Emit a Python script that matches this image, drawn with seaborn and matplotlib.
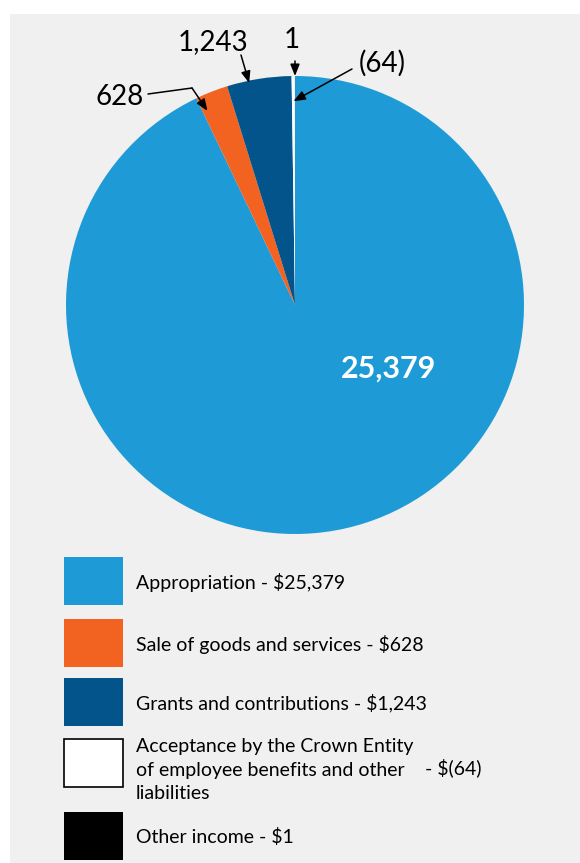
import numpy as np
import matplotlib
matplotlib.use("Agg")
import matplotlib.pyplot as plt
from matplotlib.patches import Rectangle
import seaborn as sns

# Income sources ($000)
categories = [
    "Appropriation",
    "Sale of goods and services",
    "Grants and contributions",
    "Acceptance by the Crown Entity\nof employee benefits and other\nliabilities",
    "Other income",
]
values = [25379, 628, 1243, 64, 1]
value_labels = ["25,379", "628", "1,243", "(64)", "1"]
legend_amounts = ["$25,379", "$628", "$1,243", "$(64)", "$1"]
colors = ["#1e9bd7", "#f26322", "#02548b", "#ffffff", "#000000"]

sns.set_theme(style="white")
plt.rcParams["font.family"] = ["Lato", "DejaVu Sans"]
plt.rcParams["text.color"] = "black"

W, H = 580, 863
fig = plt.figure(figsize=(W / 100, H / 100), dpi=100)
fig.patch.set_facecolor("white")

# grey panel behind the chart
fig.patches.append(Rectangle((10 / W, 0), (W - 10) / W, (H - 14) / H,
                             transform=fig.transFigure, facecolor="#f0f0f0",
                             edgecolor="none", zorder=-5))

# pie axes: centre (295, 305) px, radius 229 px
cx, cy, r = 295, 305, 229
ax = fig.add_axes([(cx - r) / W, (H - cy - r) / H, 2 * r / W, 2 * r / H])
ax.set_zorder(1)
wedges, _ = ax.pie(values, colors=colors, startangle=90, counterclock=False,
                   wedgeprops=dict(linewidth=0))
ax.set_xlim(-1, 1)
ax.set_ylim(-1, 1)
ax.set_aspect("equal")
ax.axis("off")


def px(x, y):
    """pixel position -> pie data coordinates"""
    return ((x - cx) / r, (cy - y) / r)


def wedge_point(w, rad, frac=0.5):
    a = np.deg2rad(w.theta1 + frac * (w.theta2 - w.theta1))
    return (rad * np.cos(a), rad * np.sin(a))


arrow = dict(arrowstyle="-|>,head_length=0.7,head_width=0.28", color="black",
             lw=1.1, mutation_scale=10, shrinkA=0, shrinkB=0)

# big value inside the main slice
ax.text(*px(389, 369), value_labels[0], color="white", fontsize=22,
        fontweight="bold", ha="center", va="center")

# 628 with an elbowed leader
ax.text(*px(120, 97), value_labels[1], fontsize=20, ha="center", va="center",
        color="black")
e = px(192, 88)
s = px(148, 94)
ax.plot([s[0], e[0]], [s[1], e[1]], color="black", lw=1.1, clip_on=False)
ax.annotate("", xy=wedge_point(wedges[1], 0.93, 0.85), xytext=e,
            arrowprops=arrow, annotation_clip=False)

# 1,243
ax.text(*px(213, 42), value_labels[2], fontsize=20, ha="center", va="center",
        color="black")
ax.annotate("", xy=wedge_point(wedges[2], 0.99, 0.66), xytext=px(241, 55),
            arrowprops=arrow, annotation_clip=False)

# (64)
ax.text(*px(382, 63), value_labels[3], fontsize=20, ha="center", va="center",
        color="black")
ax.annotate("", xy=wedge_point(wedges[3], 0.89), xytext=px(352, 69),
            arrowprops=arrow, annotation_clip=False)

# 1
ax.text(*px(292, 40), value_labels[4], fontsize=20, ha="center", va="center",
        color="black")
ax.annotate("", xy=wedge_point(wedges[4], 1.0), xytext=(0, (cy - 61) / r),
            arrowprops=arrow, annotation_clip=False)

# legend
box_tops = [557, 619, 678, 739, 812]
box_w, box_h = 59, 48
for i, (cat, amt, col) in enumerate(zip(categories, legend_amounts, colors)):
    top = box_tops[i]
    ec = "black" if col == "#ffffff" else "none"
    fig.patches.append(Rectangle((64 / W, (H - top - box_h) / H), box_w / W, box_h / H,
                                 transform=fig.transFigure, facecolor=col,
                                 edgecolor=ec, linewidth=1.2, zorder=2))
    yc = 1 - (top + box_h / 2 + 1) / H
    if "\n" in cat:
        fig.text(136 / W, 1 - 770 / H, cat, fontsize=14, ha="left", va="center",
                 linespacing=1.45, color="black")
        fig.text(425 / W, 1 - 768 / H, "- " + amt, fontsize=14, ha="left",
                 va="center", color="black")
    else:
        fig.text(136 / W, yc, f"{cat} - {amt}", fontsize=14, ha="left",
                 va="center", color="black")

fig.savefig("out.png", dpi=100, facecolor=fig.get_facecolor())
